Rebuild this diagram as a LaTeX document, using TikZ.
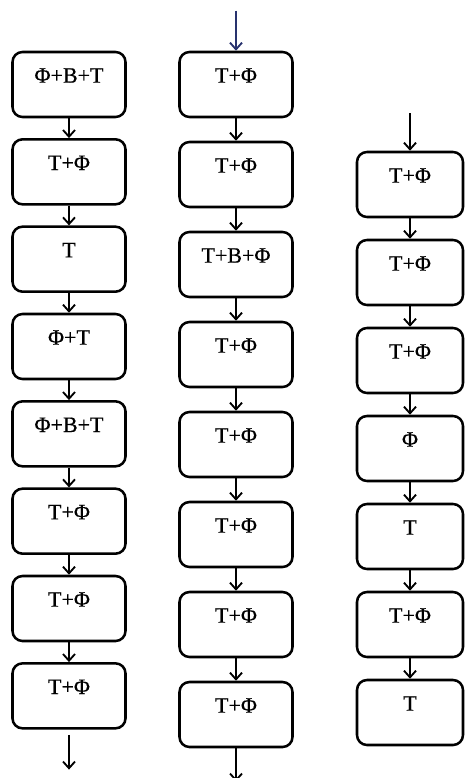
\documentclass[tikz,border=0pt]{standalone}
\usepackage{fontspec}
\setmainfont{Liberation Serif}
\newfontfamily\boxfont[FakeBold=0.4]{Liberation Serif}
\usetikzlibrary{positioning,arrows.meta}

\tikzset{
  stage/.style={draw,line width=1.9pt,rounded corners=7.5pt,inner sep=0pt,
    minimum width=84.75pt,text height=23pt,text depth=25.75pt,
    font=\boxfont\fontsize{16.5}{19}\selectfont},
  flow/.style={-{Straight Barb[length=5pt,width=9pt,line width=1.4pt]},line width=1.3pt}
}

\begin{document}
\begin{tikzpicture}[x=0.75pt,y=-0.75pt,on grid]
    \useasboundingbox (0,0) rectangle (465,778);

    % left chain
    \begin{scope}[node distance=65.5pt]
    \node[stage] (a1) at (69,84.5) {Φ+B+T};
    \node[stage] (a2) [below=of a1] {T+Φ};
    \node[stage] (a3) [below=of a2] {T};
    \node[stage] (a4) [below=of a3] {Φ+T};
    \node[stage] (a5) [below=of a4] {Φ+B+T};
    \node[stage] (a6) [below=of a5] {T+Φ};
    \node[stage] (a7) [below=of a6] {T+Φ};
    \node[stage] (a8) [below=of a7] {T+Φ};
    \end{scope}
    \coordinate (aout0) at ([yshift=-4pt]a8.south);
    \coordinate (aout) at ([yshift=-30pt]a8.south);

    % middle chain
    \begin{scope}[node distance=67.5pt]
    \node[stage] (b1) at (236,84.5) {T+Φ};
    \node[stage] (b2) [below=of b1] {T+Φ};
    \node[stage] (b3) [below=of b2] {T+B+Φ};
    \node[stage] (b4) [below=of b3] {T+Φ};
    \node[stage] (b5) [below=of b4] {T+Φ};
    \node[stage] (b6) [below=of b5] {T+Φ};
    \node[stage] (b7) [below=of b6] {T+Φ};
    \node[stage] (b8) [below=of b7] {T+Φ};
    \end{scope}
    \coordinate (bin) at ([yshift=30pt]b1.north);
    \coordinate (bout) at ([yshift=-25pt]b8.south);

    % right chain
    \begin{scope}[node distance=66pt]
    \node[stage,minimum width=79.5pt] (c1) at (410,184.5) {T+Φ};
    \node[stage,minimum width=79.5pt] (c2) [below=of c1] {T+Φ};
    \node[stage,minimum width=79.5pt] (c3) [below=of c2] {T+Φ};
    \node[stage,minimum width=79.5pt] (c4) [below=of c3] {Φ};
    \node[stage,minimum width=79.5pt] (c5) [below=of c4] {T};
    \node[stage,minimum width=79.5pt] (c6) [below=of c5] {T+Φ};
    \node[stage,minimum width=79.5pt] (c7) [below=of c6] {T};
    \end{scope}
    \coordinate (cin) at ([yshift=28pt]c1.north);

    \path[flow]
    (a1) edge (a2)  (a2) edge (a3)  (a3) edge (a4)  (a4) edge (a5)
    (a5) edge (a6)  (a6) edge (a7)  (a7) edge (a8)
    (aout0) edge (aout)
    (bin) edge[draw={rgb,255:red,40;green,50;blue,110}] (b1)
    (b1) edge (b2)  (b2) edge (b3)  (b3) edge (b4)  (b4) edge (b5)
    (b5) edge (b6)  (b6) edge (b7)  (b7) edge (b8)
    (b8) edge (bout)
    (cin) edge (c1)
    (c1) edge (c2)  (c2) edge (c3)  (c3) edge (c4)  (c4) edge (c5)
    (c5) edge (c6)  (c6) edge (c7);
\end{tikzpicture}
\end{document}
